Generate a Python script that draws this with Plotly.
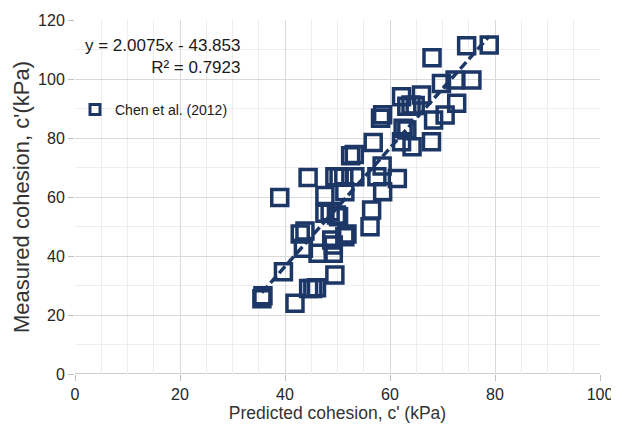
import plotly.graph_objects as go

# Data
predicted_c = [35.6, 35.8, 39.7, 41.9, 44.5, 45.3, 46.0, 49.5, 43.5, 42.9,
               43.8, 46.3, 49.2, 49.2, 48.9, 51.4, 51.8, 47.6, 48.6, 49.8,
               50.2, 47.6, 51.4, 39.0, 44.4, 49.5, 50.3, 51.2, 53.3, 52.5,
               53.2, 56.2, 56.5, 57.5, 58.6, 61.4, 56.8, 58.2, 58.6, 62.2,
               64.2, 67.9, 62.5, 62.2, 66.0, 63.2, 64.0, 64.8, 68.3, 70.5,
               72.7, 69.8, 72.4, 75.6, 68.0, 74.6, 78.9, 58.5, 63.2]
measured_c = [25.5, 26.5, 34.7, 24.0, 29.0, 29.0, 29.2, 33.6, 42.6, 47.5,
              48.5, 40.9, 40.9, 43.7, 45.4, 46.5, 47.5, 54.5, 55.0, 53.9,
              53.3, 60.5, 61.8, 59.8, 66.6, 66.9, 66.9, 66.7, 66.9, 74.0,
              74.4, 49.9, 55.6, 66.9, 61.8, 66.3, 78.5, 86.7, 87.9, 78.7,
              77.0, 78.7, 83.3, 94.0, 94.6, 90.8, 91.2, 91.0, 86.1, 87.8,
              91.8, 98.5, 99.7, 99.7, 107.2, 111.3, 111.5, 70.5, 82.7]

trend_slope = 2.0075
trend_intercept = -43.853
trend_r2 = 0.7923
series_name = "Chen et al. (2012)"

x_ticks = [0, 20, 40, 60, 80, 100]
y_ticks = [0, 20, 40, 60, 80, 100, 120]

navy = "#1c3766"
font_family = "Liberation Sans, Arial, sans-serif"

fig = go.Figure()

# Linear trendline over the data range
x_lo, x_hi = min(predicted_c), max(predicted_c)
fig.add_trace(go.Scatter(
    x=[x_lo, x_hi],
    y=[trend_slope * x_lo + trend_intercept, trend_slope * x_hi + trend_intercept],
    mode="lines",
    line=dict(color=navy, width=3.5, dash="9px,4px"),
    showlegend=False,
    hoverinfo="skip",
))

fig.add_trace(go.Scatter(
    x=predicted_c, y=measured_c,
    mode="markers",
    name=series_name,
    showlegend=False,
    marker=dict(symbol="square-open", size=16, color=navy,
                line=dict(color=navy, width=3.5)),
))

# legend entry with the small legend symbol
fig.add_trace(go.Scatter(
    x=[None], y=[None],
    mode="markers",
    name=series_name,
    marker=dict(symbol="square-open", size=10, color=navy,
                line=dict(color=navy, width=3)),
))

fig.add_annotation(
    xref="paper", yref="paper", x=0.318, y=0.898,
    xanchor="right", yanchor="middle",
    text=f"y = {trend_slope}x - {abs(trend_intercept)}<br>R² = {trend_r2}",
    showarrow=False, align="right",
    font=dict(family=font_family, size=17, color="#1a1a1a"),
)

axis_common = dict(
    showline=False,
    zeroline=False,
    automargin=False,
    gridcolor="#d9d9d9",
    gridwidth=1,
    ticks="outside",
    ticklen=6,
    tickcolor="#bfbfbf",
    tickfont=dict(family=font_family, size=16, color="#262626"),
)

fig.update_xaxes(
    range=[0, 100], tickvals=x_ticks,
    minor=dict(dtick=5, showgrid=True, gridcolor="#ededed", gridwidth=1),
    title=dict(text="Predicted cohesion, c' (kPa)", standoff=0,
               font=dict(family=font_family, size=17.5, color="#333333")),
    **axis_common,
)
fig.update_yaxes(
    range=[0, 120], tickvals=y_ticks,
    minor=dict(dtick=10, showgrid=True, gridcolor="#ededed", gridwidth=1),
    title=dict(text="Measured cohesion, c'(kPa)", standoff=2,
               font=dict(family=font_family, size=22, color="#333333")),
    **axis_common,
)

# bottom axis line at y = 0
fig.add_shape(type="line", xref="paper", yref="y", x0=0, x1=1, y0=0, y1=0,
              line=dict(color="#bfbfbf", width=1.5), layer="below")

# the page body adds an 8px offset, margins compensate for it
fig.update_layout(
    width=619, height=434,
    margin=dict(l=67, r=27, t=12, b=68),
    plot_bgcolor="white",
    paper_bgcolor="white",
    showlegend=True,
    legend=dict(
        x=0.0, y=0.746, xanchor="left", yanchor="middle",
        bgcolor="rgba(255,255,255,0)",
        font=dict(family=font_family, size=14, color="#1a1a1a"),
        itemwidth=30,
    ),
)

fig.write_html("out.html")
